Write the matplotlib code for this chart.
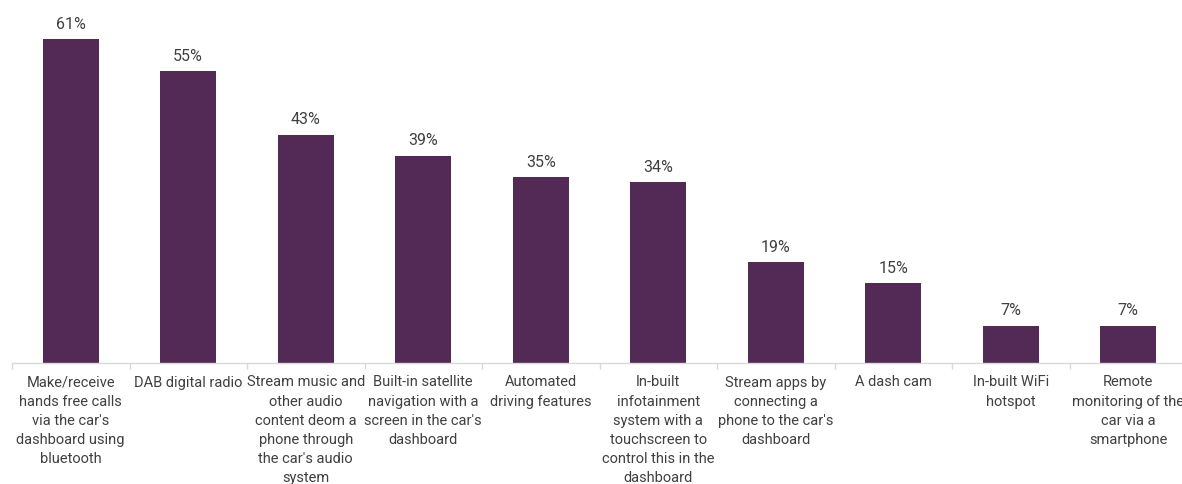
import matplotlib
matplotlib.use("Agg")
import matplotlib.pyplot as plt
import numpy as np

categories = [
    "Make/receive\nhands free calls\nvia the car's\ndashboard using\nbluetooth",
    "DAB digital radio",
    "Stream music and\nother audio\ncontent deom a\nphone through\nthe car's audio\nsystem",
    "Built-in satellite\nnavigation with a\nscreen in the car's\ndashboard",
    "Automated\ndriving features",
    "In-built\ninfotainment\nsystem with a\ntouchscreen to\ncontrol this in the\ndashboard",
    "Stream apps by\nconnecting a\nphone to the car's\ndashboard",
    "A dash cam",
    "In-built WiFi\nhotspot",
    "Remote\nmonitoring of the\ncar via a\nsmartphone",
]
values = [61, 55, 43, 39, 35, 34, 19, 15, 7, 7]
value_labels = ["61%", "55%", "43%", "39%", "35%", "34%", "19%", "15%", "7%", "7%"]

plt.rcParams['font.family'] = ['Roboto', 'DejaVu Sans']
W, H = 1182, 484
fig = plt.figure(figsize=(W / 100, H / 100), dpi=100)
ax = fig.add_axes([12 / W, (H - 363) / H, 1175 / W, 363 / H])

x = np.arange(len(values))
ax.bar(x, values, width=0.477, color="#532A56")
ax.set_xlim(-0.5, len(values) - 0.5)
ax.set_ylim(0, 363 / 5.31)

for xi, v, lab in zip(x, values, value_labels):
    ax.text(xi, v + 1.4, lab, ha="center", va="bottom", fontsize=11.5, color="#404040")

ax.set_xticks(x)
ax.set_xticklabels(categories, fontsize=10.5, color="#404040", linespacing=1.46, va="top")
ax.tick_params(axis="x", which="major", length=0, pad=9)
ax.set_xticks(np.arange(-0.5, len(values), 1), minor=True)
ax.tick_params(axis="x", which="minor", length=4, color="#D9D9D9", width=1)
ax.set_yticks([])
for s in ["top", "right", "left"]:
    ax.spines[s].set_visible(False)
ax.spines["bottom"].set_color("#D9D9D9")
ax.spines["bottom"].set_linewidth(1)

fig.savefig("out.png", dpi=100)
